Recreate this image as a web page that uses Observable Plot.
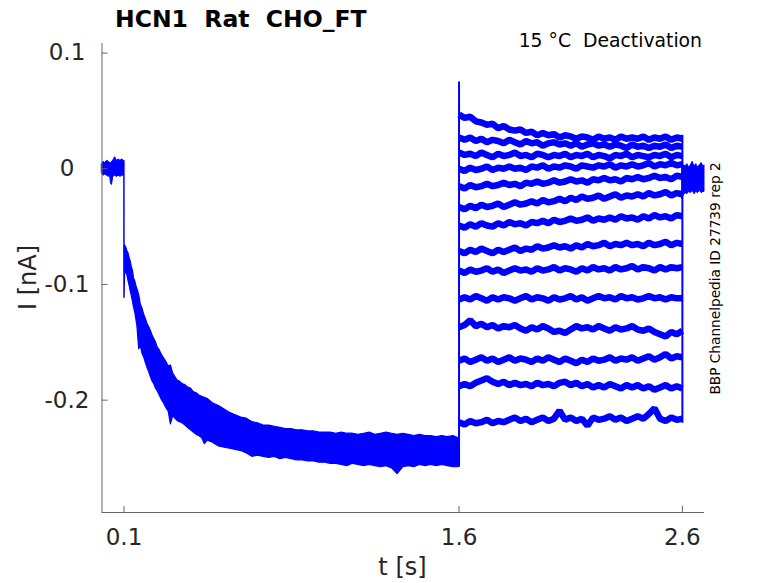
<!DOCTYPE html>
<html><head><meta charset="utf-8">
<script src="https://cdn.jsdelivr.net/npm/d3@7"></script>
<script src="https://cdn.jsdelivr.net/npm/@observablehq/plot@0.6"></script>
<style>body{margin:0;background:#fff}#chart{width:778px;height:583px}</style>
</head><body><div id="chart"></div>
<script>
// ---- tick labels ----
const xTicks = [0.1, 1.6, 2.6];
const yTicks = [0.1, 0, -0.1, -0.2];

// ---- holding current before the step (0 - 0.1 s) ----
const baseT  = [0.0015,0.008,0.016,0.024,0.032,0.038,0.042,0.046,0.052,0.060,0.068,0.076,0.084,0.092,0.0995];
const baseHi = [0.004,0.006,0.005,0.007,0.006,0.005,0.005,0.006,0.007,0.010,0.007,0.008,0.007,0.008,0.007];
const baseLo = [-0.004,-0.006,-0.005,-0.006,-0.007,-0.006,-0.013,-0.014,-0.007,-0.006,-0.007,-0.006,-0.007,-0.006,-0.006];

// ---- capacitive drop at 0.1 s ----
const dropT = [0.0995, 0.1, 0.1035];
const dropI = [0.007, -0.111, -0.075];

// ---- activation (all sweeps overlapping), envelope of the band ----
const decayT = [0.1035,0.110,0.115,0.120,0.125,0.130,0.135,0.140,0.145,0.150,0.155,0.160,0.168,0.175,0.183,0.190,0.198,0.205,0.213,0.220,0.228,0.235,0.243,0.250,0.260,0.270,0.280,0.290,0.300,0.310,0.320,0.330,0.340,0.350,0.362,0.375,0.387,0.400,0.412,0.425,0.437,0.450,0.462,0.475,0.487,0.500,0.525,0.550,0.575,0.600,0.625,0.650,0.675,0.700,0.725,0.750,0.775,0.800,0.825,0.850,0.875,0.900,0.925,0.950,0.975,1.000,1.025,1.050,1.075,1.100,1.125,1.150,1.175,1.200,1.225,1.250,1.275,1.300,1.325,1.350,1.375,1.400,1.425,1.450,1.475,1.500,1.525,1.550,1.575,1.598];
const decayHi = [-0.066,-0.068,-0.071,-0.073,-0.077,-0.080,-0.085,-0.088,-0.095,-0.097,-0.101,-0.104,-0.109,-0.117,-0.121,-0.126,-0.130,-0.134,-0.137,-0.140,-0.144,-0.147,-0.150,-0.154,-0.157,-0.161,-0.164,-0.167,-0.171,-0.170,-0.177,-0.180,-0.183,-0.184,-0.186,-0.187,-0.189,-0.190,-0.193,-0.194,-0.196,-0.197,-0.198,-0.199,-0.201,-0.203,-0.205,-0.208,-0.211,-0.213,-0.215,-0.216,-0.219,-0.220,-0.222,-0.222,-0.223,-0.224,-0.225,-0.225,-0.226,-0.226,-0.227,-0.227,-0.228,-0.228,-0.228,-0.229,-0.228,-0.229,-0.229,-0.230,-0.229,-0.228,-0.230,-0.229,-0.228,-0.229,-0.230,-0.229,-0.230,-0.231,-0.230,-0.231,-0.231,-0.232,-0.231,-0.232,-0.231,-0.233];
const decayLo = [-0.088,-0.090,-0.092,-0.097,-0.101,-0.106,-0.110,-0.115,-0.120,-0.124,-0.130,-0.136,-0.156,-0.153,-0.160,-0.163,-0.168,-0.172,-0.176,-0.180,-0.184,-0.186,-0.190,-0.192,-0.196,-0.200,-0.203,-0.207,-0.210,-0.221,-0.214,-0.216,-0.218,-0.219,-0.220,-0.222,-0.224,-0.226,-0.228,-0.230,-0.231,-0.233,-0.238,-0.235,-0.236,-0.237,-0.240,-0.241,-0.242,-0.243,-0.244,-0.246,-0.249,-0.248,-0.249,-0.250,-0.249,-0.251,-0.250,-0.251,-0.252,-0.252,-0.253,-0.253,-0.254,-0.254,-0.255,-0.255,-0.256,-0.257,-0.255,-0.256,-0.257,-0.256,-0.257,-0.258,-0.257,-0.259,-0.264,-0.258,-0.257,-0.258,-0.256,-0.257,-0.256,-0.257,-0.256,-0.257,-0.258,-0.258];

// ---- peak of the step at 1.6 s ----
const jumpPeak = 0.075;

// ---- tail currents, one sweep per array ----
const tailT = [1.6,1.625,1.65,1.675,1.7,1.725,1.75,1.775,1.8,1.825,1.85,1.875,1.9,1.925,1.95,1.975,2.0,2.025,2.05,2.075,2.1,2.125,2.15,2.175,2.2,2.225,2.25,2.275,2.3,2.325,2.35,2.375,2.4,2.425,2.45,2.475,2.5,2.525,2.55,2.575,2.6];
const tailA = [0.047,0.044,0.045,0.041,0.040,0.038,0.039,0.035,0.037,0.034,0.033,0.034,0.031,0.032,0.029,0.031,0.029,0.030,0.027,0.029,0.028,0.026,0.028,0.027,0.025,0.028,0.026,0.027,0.025,0.028,0.026,0.027,0.026,0.028,0.025,0.027,0.026,0.028,0.025,0.027,0.026];
const tailB = [0.027,0.025,0.027,0.024,0.026,0.023,0.025,0.024,0.022,0.025,0.023,0.021,0.024,0.022,0.023,0.020,0.022,0.023,0.021,0.022,0.020,0.022,0.019,0.021,0.022,0.020,0.021,0.019,0.021,0.020,0.018,0.021,0.019,0.020,0.018,0.020,0.019,0.021,0.018,0.020,0.019];
const tailC = [0.014,0.012,0.013,0.011,0.014,0.012,0.010,0.013,0.011,0.012,0.014,0.011,0.012,0.010,0.013,0.012,0.010,0.012,0.011,0.013,0.010,0.012,0.011,0.013,0.010,0.012,0.011,0.009,0.012,0.011,0.013,0.010,0.012,0.011,0.010,0.012,0.011,0.013,0.010,0.012,0.011];
const tailD = [0.000,-0.002,0.001,-0.001,0.000,0.002,-0.001,0.001,0.000,0.002,0.000,0.001,-0.001,0.002,0.001,0.003,0.000,0.002,0.001,0.003,0.002,0.000,0.003,0.002,0.001,0.003,0.002,0.004,0.001,0.003,0.002,0.004,0.002,0.003,0.005,0.002,0.004,0.003,0.005,0.003,0.004];
const tailE = [-0.015,-0.017,-0.014,-0.016,-0.015,-0.013,-0.015,-0.014,-0.012,-0.014,-0.013,-0.015,-0.012,-0.013,-0.011,-0.013,-0.012,-0.010,-0.012,-0.011,-0.009,-0.011,-0.010,-0.012,-0.009,-0.010,-0.008,-0.010,-0.009,-0.011,-0.008,-0.009,-0.007,-0.009,-0.008,-0.006,-0.008,-0.007,-0.009,-0.006,-0.007];
const tailF = [-0.033,-0.035,-0.032,-0.034,-0.031,-0.033,-0.032,-0.030,-0.033,-0.031,-0.029,-0.031,-0.030,-0.028,-0.030,-0.027,-0.029,-0.028,-0.026,-0.028,-0.025,-0.027,-0.024,-0.026,-0.025,-0.023,-0.026,-0.024,-0.022,-0.025,-0.023,-0.024,-0.022,-0.024,-0.021,-0.023,-0.022,-0.020,-0.023,-0.021,-0.022];
const tailG = [-0.049,-0.051,-0.048,-0.050,-0.047,-0.049,-0.050,-0.047,-0.049,-0.046,-0.048,-0.047,-0.049,-0.046,-0.047,-0.045,-0.047,-0.044,-0.046,-0.045,-0.043,-0.045,-0.044,-0.042,-0.045,-0.043,-0.044,-0.042,-0.044,-0.041,-0.043,-0.042,-0.044,-0.041,-0.043,-0.040,-0.042,-0.041,-0.043,-0.040,-0.041];
const tailH = [-0.071,-0.073,-0.070,-0.072,-0.069,-0.071,-0.073,-0.070,-0.072,-0.070,-0.068,-0.071,-0.069,-0.070,-0.067,-0.069,-0.068,-0.066,-0.068,-0.067,-0.069,-0.066,-0.068,-0.065,-0.067,-0.066,-0.064,-0.067,-0.065,-0.066,-0.064,-0.066,-0.065,-0.067,-0.064,-0.066,-0.065,-0.063,-0.066,-0.064,-0.065];
const tailI = [-0.088,-0.090,-0.087,-0.089,-0.088,-0.086,-0.089,-0.087,-0.090,-0.088,-0.086,-0.088,-0.087,-0.089,-0.086,-0.088,-0.087,-0.085,-0.088,-0.086,-0.087,-0.089,-0.086,-0.088,-0.085,-0.087,-0.086,-0.088,-0.085,-0.087,-0.086,-0.084,-0.087,-0.085,-0.086,-0.088,-0.085,-0.087,-0.085,-0.086,-0.085];
const tailJ = [-0.113,-0.111,-0.113,-0.110,-0.112,-0.114,-0.111,-0.113,-0.111,-0.112,-0.114,-0.112,-0.110,-0.113,-0.111,-0.112,-0.114,-0.111,-0.113,-0.112,-0.110,-0.113,-0.111,-0.114,-0.112,-0.110,-0.112,-0.111,-0.113,-0.110,-0.112,-0.111,-0.113,-0.112,-0.110,-0.112,-0.111,-0.113,-0.111,-0.112,-0.112];
const tailK = [-0.137,-0.135,-0.131,-0.136,-0.134,-0.137,-0.135,-0.138,-0.136,-0.137,-0.135,-0.138,-0.140,-0.137,-0.139,-0.136,-0.138,-0.141,-0.140,-0.142,-0.139,-0.136,-0.138,-0.137,-0.139,-0.136,-0.138,-0.140,-0.137,-0.139,-0.138,-0.136,-0.139,-0.140,-0.138,-0.141,-0.143,-0.145,-0.141,-0.143,-0.140];
const tailL = [-0.166,-0.164,-0.167,-0.165,-0.163,-0.166,-0.164,-0.167,-0.165,-0.163,-0.166,-0.164,-0.165,-0.167,-0.164,-0.166,-0.163,-0.165,-0.167,-0.164,-0.166,-0.168,-0.165,-0.167,-0.164,-0.166,-0.165,-0.163,-0.166,-0.164,-0.165,-0.163,-0.166,-0.164,-0.162,-0.165,-0.163,-0.160,-0.164,-0.162,-0.163];
const tailM = [-0.188,-0.186,-0.188,-0.185,-0.183,-0.181,-0.184,-0.186,-0.184,-0.187,-0.185,-0.187,-0.186,-0.188,-0.185,-0.187,-0.186,-0.188,-0.185,-0.184,-0.187,-0.185,-0.188,-0.186,-0.189,-0.187,-0.189,-0.186,-0.188,-0.190,-0.187,-0.189,-0.187,-0.190,-0.188,-0.191,-0.189,-0.187,-0.190,-0.188,-0.190];
const tailN = [-0.219,-0.221,-0.218,-0.220,-0.219,-0.217,-0.220,-0.218,-0.219,-0.217,-0.215,-0.218,-0.216,-0.219,-0.217,-0.215,-0.218,-0.216,-0.209,-0.217,-0.215,-0.218,-0.216,-0.222,-0.215,-0.217,-0.216,-0.214,-0.217,-0.215,-0.218,-0.216,-0.214,-0.216,-0.212,-0.207,-0.216,-0.218,-0.215,-0.217,-0.216];
const tails = [tailA,tailB,tailC,tailD,tailE,tailF,tailG,tailH,tailI,tailJ,tailK,tailL,tailM,tailN];

// ---- after return to holding (2.6 s - end) ----
const blobT  = [2.6,2.606,2.614,2.622,2.63,2.638,2.646,2.654,2.662,2.67,2.678,2.686,2.694,2.699];
const blobHi = [0.005,0.003,0.002,0.004,0.001,0.003,0.006,0.002,0.004,0.001,0.003,0.005,0.002,0.003];
const blobLo = [-0.026,-0.023,-0.021,-0.022,-0.020,-0.021,-0.019,-0.022,-0.020,-0.021,-0.019,-0.021,-0.020,-0.020];

// ---- build tables ----
const BLUE = "#0000ff";
const xDomain = [0.0015, 2.699];
const yDomain = [-0.2971, 0.1083];
const baseRows  = baseT.map((t,i)=>({t, lo: baseLo[i], hi: baseHi[i]}));
const dropRows  = dropT.map((t,i)=>({t, i: dropI[i]}));
const decayRows = decayT.map((t,i)=>({t, lo: decayLo[i], hi: decayHi[i]}));
const blobRows  = blobT.map((t,i)=>({t, lo: blobLo[i], hi: blobHi[i]}));
const tailRows  = tails.flatMap((arr,k)=>arr.map((v,i)=>({trace:k, t: tailT[i], i: v})));
const ends = tails.map(a=>a[a.length-1]);
const stepRows = [
  {t: tailT[0], y1: decayLo[decayLo.length-1], y2: jumpPeak},
  {t: tailT[tailT.length-1], y1: d3.min(ends) - 0.004, y2: d3.max(tails.map(a=>d3.max(a.slice(-3))))+0.002}
];

const W = 778, H = 583, mL = 101.5, mR = 74, mT = 43, mB = 71;
const chart = Plot.plot({
  width: W, height: H,
  marginLeft: mL, marginRight: mR, marginTop: mT, marginBottom: mB,
  style: {fontFamily: "DejaVu Sans", background: "white", overflow: "visible"},
  x: {domain: xDomain},
  y: {domain: yDomain},
  marks: [
    Plot.areaY(baseRows, {x: "t", y1: "lo", y2: "hi", fill: BLUE, stroke: BLUE, strokeWidth: 1}),
    Plot.line(dropRows, {x: "t", y: "i", stroke: BLUE, strokeWidth: 1.5}),
    Plot.areaY(decayRows, {x: "t", y1: "lo", y2: "hi", fill: BLUE, stroke: BLUE, strokeWidth: 1.2}),
    Plot.ruleX(stepRows, {x: "t", y1: "y1", y2: "y2", stroke: BLUE, strokeWidth: 2}),
    Plot.line(tailRows, {x: "t", y: "i", z: "trace", stroke: BLUE, strokeWidth: 6.5, strokeLinejoin: "miter", strokeLinecap: "butt"}),
    Plot.areaY(blobRows, {x: "t", y1: "lo", y2: "hi", fill: BLUE, stroke: BLUE, strokeWidth: 1}),
    Plot.ruleX([xDomain[0]], {stroke: "#666", strokeWidth: 1}),
    Plot.ruleY([yDomain[0]], {stroke: "#666", strokeWidth: 1}),
    Plot.tickY(yTicks, {y: d => d, stroke: "#666", insetRight: (W - mL - mR) - 6}),
    Plot.tickX(xTicks, {x: d => d, stroke: "#666", insetTop: (H - mT - mB) - 6}),
    Plot.axisY({ticks: yTicks, tickSize: 0, tickPadding: 35, textAnchor: "middle", tickFormat: d => String(d), fontSize: 23, fill: "#262626", label: null}),
    Plot.axisX({ticks: xTicks, tickSize: 0, tickPadding: 16.5, tickFormat: d => String(d), fontSize: 23, fill: "#262626", label: null})
  ]
});
document.getElementById("chart").append(chart);

const svg = d3.select(chart);
svg.append("text").attr("x", 115).attr("y", 26.7).attr("text-anchor", "start")
  .attr("font-family", "DejaVu Sans").attr("font-weight", "bold").attr("font-size", 23.5)
  .attr("fill", "#000").style("white-space", "pre").text("HCN1  Rat  CHO_FT");
svg.append("text").attr("x", 702).attr("y", 47.3).attr("text-anchor", "end")
  .attr("font-family", "DejaVu Sans").attr("font-size", 18.8)
  .attr("fill", "#000").style("white-space", "pre").text("15 °C  Deactivation");
svg.append("text").attr("transform", "translate(719.5,278.5) rotate(-90)").attr("text-anchor", "middle")
  .attr("font-family", "DejaVu Sans").attr("font-size", 13.7).attr("fill", "#000")
  .text("BBP Channelpedia ID 27739 rep 2");
svg.append("text").attr("transform", "translate(36,277.5) rotate(-90)").attr("text-anchor", "middle")
  .attr("font-family", "DejaVu Sans").attr("font-size", 24).attr("fill", "#262626")
  .text("I [nA]");
svg.append("text").attr("x", 402.5).attr("y", 575).attr("text-anchor", "middle")
  .attr("font-family", "DejaVu Sans").attr("font-size", 24).attr("fill", "#262626")
  .text("t [s]");
</script></body></html>
